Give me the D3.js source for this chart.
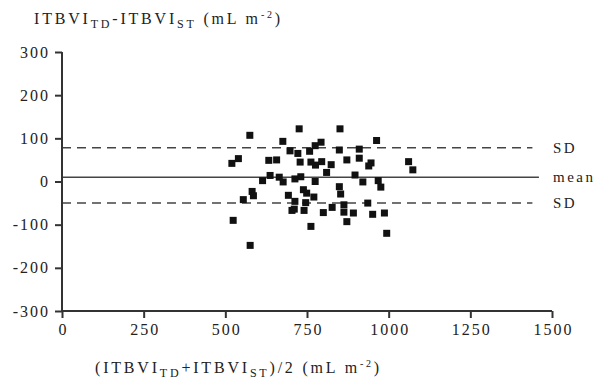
<!DOCTYPE html>
<html>
<head>
<meta charset="utf-8">
<script src="https://cdn.jsdelivr.net/npm/d3@7"></script>
<style>
  html, body { margin: 0; padding: 0; background: #fff; }
  svg { display: block; }
  text { font-family: "Liberation Serif", "Times New Roman", serif; fill: #222; }
</style>
</head>
<body>
<svg id="chart" width="597" height="380"></svg>
<script>
// ---- data ----
const meanVals = [575, 726, 676, 698, 722, 758, 775, 793, 520, 540, 633, 657, 729, 762, 776,
  614, 637, 665, 677, 713, 731, 775, 582, 586, 739, 851, 849, 910, 963, 795, 824, 872, 910,
  946, 939, 810, 897, 849, 921, 968, 976, 1061, 1074, 555, 693, 749, 771, 713, 746, 704, 711,
  741, 524, 762, 576, 853, 827, 863, 800, 863, 892, 936, 951, 987, 872, 994];
const diffVals = [107, 122, 93, 71, 65, 70, 83, 91, 42, 53, 49, 50, 45, 45, 38,
  2, 14, 10, -1, 6, 11, 0, -23, -33, -19, 122, 73, 75, 95, 46, 39, 50, 54,
  43, 36, 21, 15, -12, -1, 2, -13, 46, 27, -42, -32, -27, -36, -46, -49, -67, -64,
  -67, -90, -104, -148, -29, -60, -54, -72, -71, -73, -50, -76, -73, -93, -120];
const meanDiff = 10;
const upperLimit = 78;
const lowerLimit = -50;
const xTicks = [0, 250, 500, 750, 1000, 1250, 1500];
const yTicks = [-300, -200, -100, 0, 100, 200, 300];
const refLabels = ["SD", "mean", "SD"];

// ---- layout ----
const svg = d3.select("#chart");
const x = d3.scaleLinear().domain([0, 1500]).range([62, 552]);
const y = d3.scaleLinear().domain([-300, 300]).range([311, 52]);
const axisColor = "#333";

// reference lines
const refLines = [
  {v: upperLimit, dash: "9,6", end: 1440},
  {v: meanDiff, dash: null, end: 1460},
  {v: lowerLimit, dash: "9,6", end: 1440}
];
svg.selectAll("line.ref").data(refLines).enter().append("line")
  .attr("class", "ref")
  .attr("x1", x(0)).attr("x2", d => x(d.end))
  .attr("y1", d => y(d.v)).attr("y2", d => y(d.v))
  .attr("stroke", "#444").attr("stroke-width", 1.5)
  .attr("stroke-dasharray", d => d.dash);

svg.selectAll("text.ref").data(refLines).enter().append("text")
  .attr("class", "ref")
  .attr("x", 553).attr("y", d => y(d.v) + 5)
  .style("font-size", "15px").style("letter-spacing", "2.5px")
  .text((d, i) => refLabels[i]);

// points
const pts = meanVals.map((m, i) => ({m, d: diffVals[i]}));
const s = 7;
svg.selectAll("rect.pt").data(pts).enter().append("rect")
  .attr("class", "pt")
  .attr("x", d => x(d.m) - s / 2).attr("y", d => y(d.d) - s / 2)
  .attr("width", s).attr("height", s)
  .attr("fill", "#111");

// axes
const xAxis = d3.axisBottom(x).tickValues(xTicks).tickSize(7).tickPadding(6).tickFormat(d3.format("d"));
const yAxis = d3.axisLeft(y).tickValues(yTicks).tickSize(7).tickPadding(5).tickFormat(d => d < 0 ? "-" + Math.abs(d) : String(d));

const gx = svg.append("g").attr("transform", `translate(0,${y(-300)})`).call(xAxis);
const gy = svg.append("g").attr("transform", `translate(${x(0)},0)`).call(yAxis);
[gx, gy].forEach(g => {
  g.select(".domain").attr("stroke", axisColor).attr("stroke-width", 2);
  g.selectAll(".tick line").attr("stroke", axisColor).attr("stroke-width", 2);
  g.selectAll(".tick text")
    .style("font-family", '"Liberation Serif", "Times New Roman", serif')
    .style("font-size", "16px").style("letter-spacing", "2px").attr("fill", "#222");
});
gx.select(".domain").attr("d", `M${x(0)},0H${x(1500)}`);
gy.select(".domain").attr("d", `M0,${y(300)}V${y(-300)}`);
gx.selectAll(".tick text").attr("dx", "1px");

// titles
function title(xp, yp, parts) {
  const t = svg.append("text").attr("x", xp).attr("y", yp)
    .style("font-size", "16px").style("letter-spacing", "2.8px");
  parts.forEach(p => {
    const ts = t.append("tspan").text(p.t);
    if (p.sub) ts.attr("dy", 4).style("font-size", "12px");
    else if (p.sup) ts.attr("dy", -6).style("font-size", "10px");
    if (p.reset) ts.attr("dy", p.reset);
  });
}
title(34, 24, [
  {t: "ITBVI"}, {t: "TD", sub: true}, {t: "-ITBVI", reset: -4}, {t: "ST", sub: true},
  {t: " (mL m", reset: -4}, {t: "-2", sup: true}, {t: ")", reset: 6}
]);
title(95, 373, [
  {t: "(ITBVI"}, {t: "TD", sub: true}, {t: "+ITBVI", reset: -4}, {t: "ST", sub: true},
  {t: ")/2 (mL m", reset: -4}, {t: "-2", sup: true}, {t: ")", reset: 6}
]);
</script>
</body>
</html>
